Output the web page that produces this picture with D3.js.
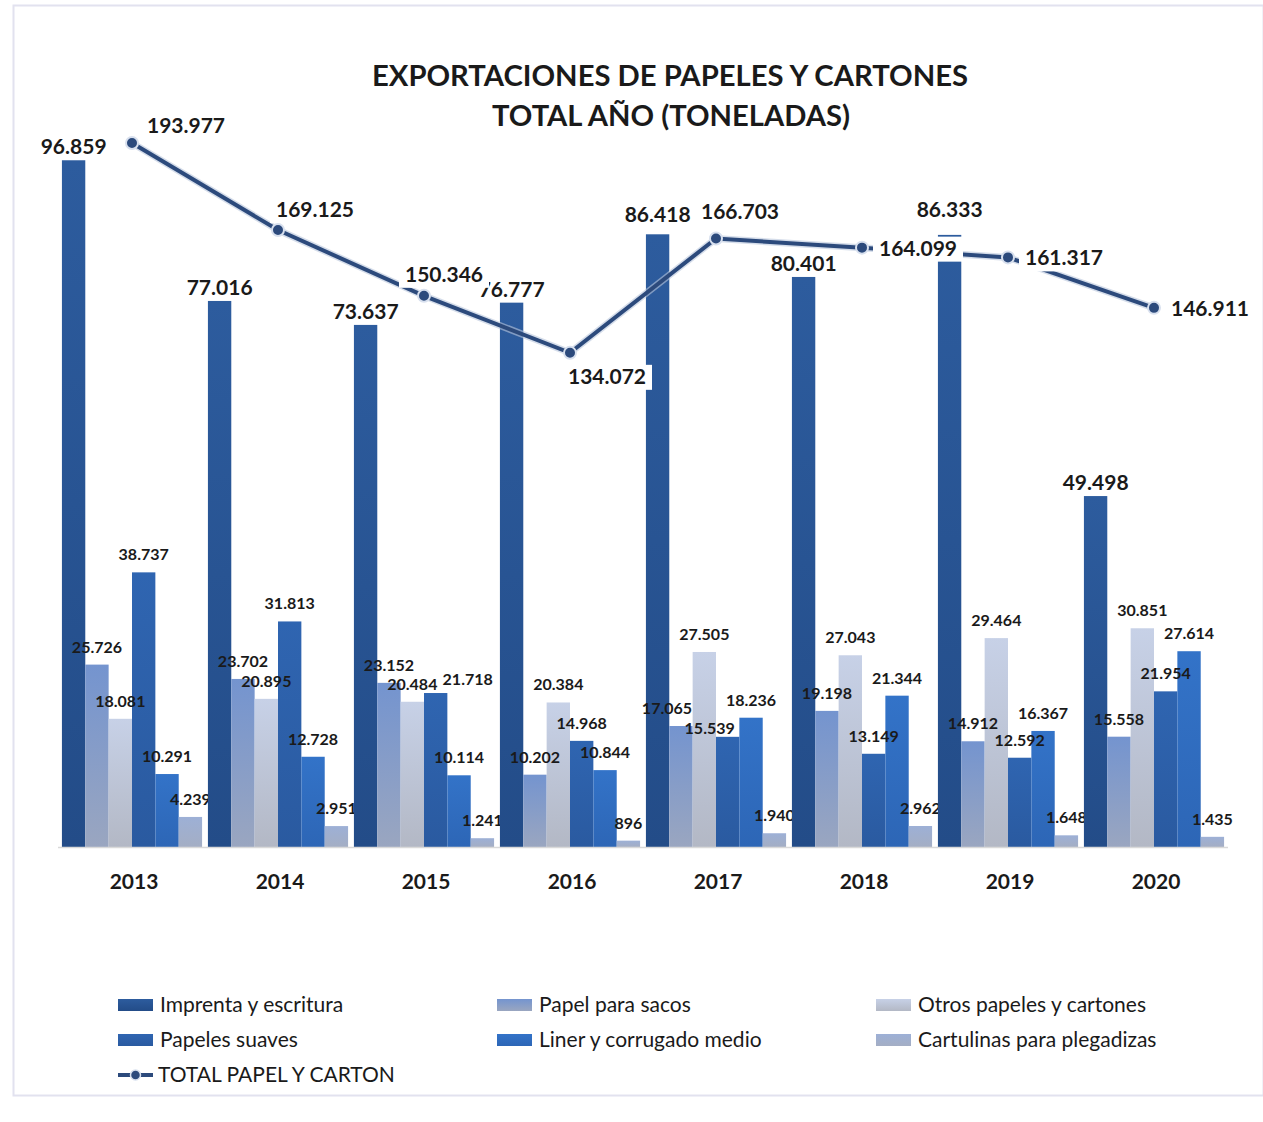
<!DOCTYPE html>
<html>
<head>
<meta charset="utf-8">
<script src="https://cdn.jsdelivr.net/npm/d3@7"></script>
<style>
  body { margin: 0; background: #fff; }
  svg text { font-family: Lato, "Open Sans", sans-serif; fill: #1a1a1a; }
</style>
</head>
<body>
<div id="chart"></div>
<script>
// data (toneladas, in thousands with "." separators)
var years = ["2013", "2014", "2015", "2016", "2017", "2018", "2019", "2020"];
var seriesNames = ["Imprenta y escritura", "Papel para sacos", "Otros papeles y cartones",
                   "Papeles suaves", "Liner y corrugado medio", "Cartulinas para plegadizas"];
var imprenta   = [96.859, 77.016, 73.637, 76.777, 86.418, 80.401, 86.333, 49.498];
var sacos      = [25.726, 23.702, 23.152, 10.202, 17.065, 19.198, 14.912, 15.558];
var otros      = [18.081, 20.895, 20.484, 20.384, 27.505, 27.043, 29.464, 30.851];
var suaves     = [38.737, 31.813, 21.718, 14.968, 15.539, 13.149, 12.592, 21.954];
var liner      = [10.291, 12.728, 10.114, 10.844, 18.236, 21.344, 16.367, 27.614];
var cartulinas = [4.239, 2.951, 1.241, 0.896, 1.940, 2.962, 1.648, 1.435];
var total      = [193.977, 169.125, 150.346, 134.072, 166.703, 164.099, 161.317, 146.911];

var series = [imprenta, sacos, otros, suaves, liner, cartulinas];
var totalName = "TOTAL PAPEL Y CARTON";

// colours (top, bottom of each bar gradient)
var colors = [["#2d5c9e", "#234c88"], ["#7494cf", "#9aa6c0"], ["#c7d1e7", "#b3b8c5"],
              ["#2f65b1", "#2a5aa0"], ["#3373c8", "#2d66b6"], ["#9db0d6", "#a4aec4"]];
var lineColor = "#2c4a7c";

var W = 1263, H = 1122;
var svg = d3.select("#chart").append("svg").attr("width", W).attr("height", H);

// faint frame
svg.append("rect").attr("x", 13.5).attr("y", 5.5).attr("width", 1250).attr("height", 1090)
  .attr("fill", "none").attr("stroke", "#e2e2ef").attr("stroke-width", 2);

var defs = svg.append("defs");
colors.forEach(function(c, i) {
  var g = defs.append("linearGradient").attr("id", "grad" + i)
    .attr("x1", 0).attr("y1", 0).attr("x2", 0).attr("y2", 1);
  g.append("stop").attr("offset", "0%").attr("stop-color", c[0]);
  g.append("stop").attr("offset", "100%").attr("stop-color", c[1]);
});

// title
var title = svg.append("g").attr("font-weight", "bold").attr("text-anchor", "middle");
title.append("text").attr("x", 670).attr("y", 86).attr("font-size", 28)
  .attr("textLength", 596).attr("lengthAdjust", "spacingAndGlyphs")
  .text("EXPORTACIONES DE PAPELES Y CARTONES");
title.append("text").attr("x", 671).attr("y", 126).attr("font-size", 28)
  .attr("textLength", 358).attr("lengthAdjust", "spacingAndGlyphs")
  .text("TOTAL AÑO (TONELADAS)");

// scales
var baseY = 847, topY = 138;
var x0 = d3.scaleBand().domain(years).range([59, 1227]).paddingInner(0.04).paddingOuter(0.02);
var x1 = d3.scaleBand().domain(d3.range(series.length)).range([0, x0.bandwidth()]);
var y = d3.scaleLinear().domain([0, 100]).range([baseY, topY]);
var y2 = d3.scaleLinear().domain([-7, 195.4]).range([baseY, topY]);

// bars
var groups = svg.selectAll("g.year").data(years).enter().append("g")
  .attr("class", "year")
  .attr("transform", function(d) { return "translate(" + x0(d) + ",0)"; });

function cells(d, yi) {
  return series.map(function(s, si) { return {yi: yi, si: si, v: s[yi]}; });
}

groups.selectAll("rect").data(cells).enter().append("rect")
  .attr("x", function(d) { return x1(d.si); })
  .attr("y", function(d) { return y(d.v); })
  .attr("width", x1.bandwidth())
  .attr("height", function(d) { return baseY - y(d.v); })
  .attr("fill", function(d) { return "url(#grad" + d.si + ")"; });

// baseline
svg.append("line").attr("x1", 58).attr("x2", 1228).attr("y1", baseY + 0.5).attr("y2", baseY + 0.5)
  .attr("stroke", "#d9d9d9").attr("stroke-width", 1.5);

// bar labels (a few nudged apart like in the original)
var nudge = {"2-3": [32, 4], "4-1": [-14, 0], "4-3": [-18, 9], "6-0": [0, -12], "4-0": [0, -6]};
function fmt(v) {
  return v < 1 ? String(Math.round(v * 1000)) : v.toFixed(3);
}
groups.selectAll("text.bl").data(cells).enter().append("text")
  .attr("class", "bl")
  .attr("text-anchor", "middle")
  .attr("font-weight", "bold")
  .attr("font-size", function(d) { return d.si === 0 ? 21 : 16; })
  .attr("x", function(d) {
    var n = nudge[d.yi + "-" + d.si];
    return x1(d.si) + x1.bandwidth() / 2 + (n ? n[0] : 0);
  })
  .attr("y", function(d) {
    var n = nudge[d.yi + "-" + d.si];
    return y(d.v) - (d.si === 0 ? 6 : 12) + (n ? n[1] : 0);
  })
  .text(function(d) { return fmt(d.v); });

// year labels
svg.selectAll("text.yr").data(years).enter().append("text")
  .attr("class", "yr")
  .attr("x", function(d) { return x0(d) + x0.bandwidth() / 2 + 2; })
  .attr("y", 889)
  .attr("text-anchor", "middle").attr("font-weight", "bold").attr("font-size", 21)
  .text(function(d) { return d; });

// total line
var cx = function(i) { return x0(years[i]) + x0.bandwidth() / 2; };
var line = d3.line().x(function(d, i) { return cx(i); }).y(function(d) { return y2(d); });
svg.append("path").datum(total).attr("d", line)
  .attr("fill", "none").attr("stroke", "#b9c6dc").attr("stroke-width", 7).attr("opacity", 0.6);
svg.append("path").datum(total).attr("d", line)
  .attr("fill", "none").attr("stroke", lineColor).attr("stroke-width", 4);
svg.selectAll("circle.pt").data(total).enter().append("circle")
  .attr("class", "pt")
  .attr("cx", function(d, i) { return cx(i); })
  .attr("cy", function(d) { return y2(d); })
  .attr("r", 6).attr("fill", lineColor).attr("stroke", "#d8e0ee").attr("stroke-width", 2);

// line labels with white background, placed around each point
var lineLabelOffset = [[54, -10], [37, -13], [20, -14], [37, 31], [24, -20], [56, 8], [56, 8], [56, 8]];
var ll = svg.selectAll("g.ll").data(total).enter().append("g").attr("class", "ll")
  .attr("transform", function(d, i) {
    return "translate(" + (cx(i) + lineLabelOffset[i][0]) + "," + (y2(d) + lineLabelOffset[i][1]) + ")";
  });
ll.append("rect").attr("x", -45).attr("y", -19).attr("width", 90).attr("height", 25).attr("fill", "#fff");
ll.append("text").attr("text-anchor", "middle").attr("font-weight", "bold").attr("font-size", 21)
  .text(function(d) { return d.toFixed(3); });

// legend
var legX = [118, 497, 876], legY = [1005, 1040];
var leg = svg.append("g").attr("font-size", 21);
seriesNames.forEach(function(name, i) {
  var gx = legX[i % 3], gy = legY[Math.floor(i / 3)];
  leg.append("rect").attr("x", gx).attr("y", gy - 6).attr("width", 35).attr("height", 12)
    .attr("fill", "url(#grad" + i + ")");
  leg.append("text").attr("x", gx + 42).attr("y", gy + 7).text(name);
});
leg.append("line").attr("x1", 118).attr("x2", 153).attr("y1", 1075).attr("y2", 1075)
  .attr("stroke", lineColor).attr("stroke-width", 4);
leg.append("circle").attr("cx", 135.5).attr("cy", 1075).attr("r", 5).attr("fill", lineColor)
  .attr("stroke", "#d8e0ee").attr("stroke-width", 1.5);
leg.append("text").attr("x", 158).attr("y", 1082).text(totalName);
</script>
</body>
</html>
